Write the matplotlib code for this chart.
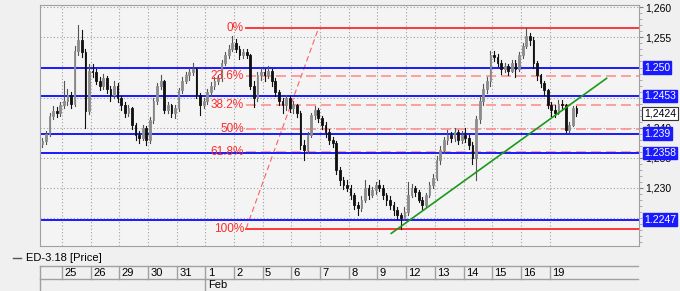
import matplotlib
matplotlib.use("Agg")
import matplotlib.pyplot as plt
from matplotlib.lines import Line2D
from matplotlib.ticker import MultipleLocator, FuncFormatter

plt.rcParams["font.family"] = ["Liberation Sans", "DejaVu Sans"]

# trading days shown on the date bar (day index 0 = 25 Jan)
day_labels = ["25", "26", "29", "30", "31", "1", "2", "5", "6", "7", "8", "9",
              "12", "13", "14", "15", "16", "19"]
bars_per_day = [6] + [8] * 18   # first day (24 Jan) is cut by the left edge

first_open = 1.2372
closes = [
    1.2378, 1.2390, 1.2420, 1.2428, 1.2425, 1.2437,
    1.2445, 1.2454, 1.2440, 1.2528, 1.2545, 1.2525, 1.2428, 1.2495,
    1.2492, 1.2478, 1.2470, 1.2482, 1.2465, 1.2454, 1.2470, 1.2449,
    1.2437, 1.2425, 1.2432, 1.2404, 1.2387, 1.2383, 1.2399, 1.2379,
    1.2412, 1.2445, 1.2470, 1.2478, 1.2429, 1.2437, 1.2425, 1.2432,
    1.2462, 1.2478, 1.2487, 1.2492, 1.2498, 1.2454, 1.2437, 1.2445,
    1.2459, 1.2470, 1.2478, 1.2482, 1.2508, 1.2520, 1.2531, 1.2541,
    1.2531, 1.2520, 1.2525, 1.2520, 1.2470, 1.2449, 1.2487, 1.2492,
    1.2487, 1.2495, 1.2478, 1.2459, 1.2445, 1.2437, 1.2449, 1.2432,
    1.2437, 1.2425, 1.2371, 1.2363, 1.2387, 1.2421, 1.2429, 1.2416,
    1.2404, 1.2392, 1.2379, 1.2375, 1.2329, 1.2313, 1.2305, 1.2300,
    1.2288, 1.2271, 1.2267, 1.2280, 1.2300, 1.2288, 1.2296, 1.2305,
    1.2300, 1.2288, 1.2280, 1.2271, 1.2263, 1.2255, 1.2250, 1.2260,
    1.2288, 1.2300, 1.2293, 1.2280, 1.2271, 1.2288, 1.2305, 1.2316,
    1.2346, 1.2363, 1.2379, 1.2387, 1.2383, 1.2392, 1.2379, 1.2387,
    1.2383, 1.2371, 1.2350, 1.2415, 1.2445, 1.2465, 1.2478, 1.2520,
    1.2517, 1.2508, 1.2498, 1.2503, 1.2495, 1.2508, 1.2498, 1.2520,
    1.2536, 1.2553, 1.2545, 1.2507, 1.2487, 1.2475, 1.2462, 1.2437,
    1.2429, 1.2425, 1.2440, 1.2437, 1.2396, 1.2404, 1.2432, 1.2424,
]
highs = [
    1.2382, 1.2395, 1.2425, 1.2436, 1.2434, 1.2442,
    1.2478, 1.2465, 1.2460, 1.2535, 1.2570, 1.2562, 1.2530, 1.2505,
    1.2505, 1.2497, 1.2485, 1.2490, 1.2486, 1.2470, 1.2478, 1.2475,
    1.2453, 1.2442, 1.2438, 1.2434, 1.2408, 1.2395, 1.2404, 1.2402,
    1.2418, 1.2450, 1.2475, 1.2488, 1.2480, 1.2442, 1.2440, 1.2438,
    1.2466, 1.2484, 1.2492, 1.2500, 1.2508, 1.2500, 1.2458, 1.2450,
    1.2465, 1.2476, 1.2485, 1.2488, 1.2512, 1.2526, 1.2538, 1.2553,
    1.2548, 1.2536, 1.2530, 1.2530, 1.2522, 1.2478, 1.2492, 1.2500,
    1.2498, 1.2502, 1.2498, 1.2482, 1.2462, 1.2450, 1.2454, 1.2452,
    1.2445, 1.2440, 1.2428, 1.2380, 1.2392, 1.2425, 1.2436, 1.2432,
    1.2420, 1.2410, 1.2398, 1.2385, 1.2378, 1.2335, 1.2318, 1.2312,
    1.2304, 1.2292, 1.2276, 1.2286, 1.2313, 1.2304, 1.2302, 1.2310,
    1.2312, 1.2304, 1.2292, 1.2286, 1.2276, 1.2268, 1.2258, 1.2268,
    1.2310, 1.2306, 1.2303, 1.2296, 1.2284, 1.2292, 1.2310, 1.2322,
    1.2352, 1.2370, 1.2385, 1.2396, 1.2393, 1.2400, 1.2396, 1.2394,
    1.2400, 1.2388, 1.2376, 1.2420, 1.2452, 1.2472, 1.2485, 1.2528,
    1.2528, 1.2522, 1.2512, 1.2508, 1.2506, 1.2512, 1.2512, 1.2525,
    1.2540, 1.2566, 1.2558, 1.2550, 1.2510, 1.2490, 1.2478, 1.2465,
    1.2442, 1.2438, 1.2446, 1.2446, 1.2440, 1.2410, 1.2436, 1.2436,
]
lows = [
    1.2368, 1.2373, 1.2386, 1.2414, 1.2418, 1.2420,
    1.2432, 1.2438, 1.2432, 1.2436, 1.2520, 1.2518, 1.2400, 1.2422,
    1.2485, 1.2472, 1.2462, 1.2465, 1.2458, 1.2445, 1.2450, 1.2443,
    1.2430, 1.2418, 1.2420, 1.2398, 1.2380, 1.2375, 1.2380, 1.2371,
    1.2375, 1.2408, 1.2440, 1.2465, 1.2424, 1.2425, 1.2418, 1.2416,
    1.2428, 1.2458, 1.2474, 1.2480, 1.2488, 1.2450, 1.2421, 1.2432,
    1.2440, 1.2452, 1.2465, 1.2472, 1.2478, 1.2504, 1.2515, 1.2528,
    1.2525, 1.2514, 1.2516, 1.2515, 1.2465, 1.2434, 1.2445, 1.2480,
    1.2478, 1.2482, 1.2470, 1.2452, 1.2438, 1.2425, 1.2430, 1.2426,
    1.2425, 1.2418, 1.2365, 1.2346, 1.2358, 1.2385, 1.2415, 1.2410,
    1.2398, 1.2385, 1.2372, 1.2368, 1.2322, 1.2305, 1.2298, 1.2294,
    1.2282, 1.2264, 1.2255, 1.2262, 1.2276, 1.2282, 1.2285, 1.2290,
    1.2294, 1.2282, 1.2272, 1.2264, 1.2255, 1.2248, 1.2232, 1.2246,
    1.2255, 1.2284, 1.2286, 1.2276, 1.2265, 1.2268, 1.2284, 1.2300,
    1.2312, 1.2340, 1.2358, 1.2372, 1.2376, 1.2378, 1.2372, 1.2374,
    1.2376, 1.2364, 1.2340, 1.2313, 1.2408, 1.2438, 1.2458, 1.2470,
    1.2510, 1.2502, 1.2490, 1.2492, 1.2488, 1.2492, 1.2484, 1.2495,
    1.2515, 1.2532, 1.2538, 1.2500, 1.2480, 1.2468, 1.2455, 1.2432,
    1.2420, 1.2418, 1.2422, 1.2430, 1.2393, 1.2393, 1.2402, 1.2420,
]

# support / resistance lines and their labels
level_values = [1.2500, 1.2453, 1.2390, 1.2358, 1.2247]
level_labels = ["1.250", "1.2453", "1.239", "1.2358", "1.2247"]
last_price = 1.2424
y_ticks = [1.230, 1.235, 1.240, 1.255, 1.260]   # labels not hidden by boxes

# fibonacci retracement
fib_top = 1.2565
fib_bottom = 1.2232
fib_ratios = [0.0, 0.236, 0.382, 0.5, 0.618, 1.0]
fib_labels = ["0%", "23.6%", "38.2%", "50%", "61.8%", "100%"]
fib_start_day = 6.42
fib_diag_end_day = 8.94

# green trendline (day, price)
trend_x = [11.48, 18.99]
trend_y = [1.2224, 1.2482]

W, H = 680, 291
fig = plt.figure(figsize=(W / 100, H / 100), dpi=100, facecolor="#f0f0f0")
ax = fig.add_axes([40 / W, 1 - 246 / H, 599 / W, 241 / H])
ax.set_facecolor("#f4f4f4")

x_left, x_right = -0.77, 20.12
ax.set_xlim(x_left, x_right)
ax.set_ylim(1.2203, 1.2604)

# bar positions
xs = []
for d, n in enumerate(bars_per_day):
    day = d - 1
    off = 8 - n
    for i in range(n):
        xs.append(day + (i + off + 0.5) / 8)

opens = [first_open] + closes[:-1]
bw = 0.06
for x, o, h, l, c in zip(xs, opens, highs, lows, closes):
    up = c >= o
    col = "#8c8c8c" if up else "#111111"
    ax.plot([x, x], [l, h], color="#555555" if up else "#111111", lw=0.8, zorder=3)
    lo, hi = min(o, c), max(o, c)
    if hi - lo < 0.00008:
        hi = lo + 0.00008
    ax.add_patch(plt.Rectangle((x - bw / 2, lo), bw, hi - lo, facecolor=col,
                               edgecolor=col, lw=0.6, zorder=4))

# grid
for d in range(len(day_labels)):
    ax.axvline(d, color="#a0a0a0", lw=0.8, ls=(0, (1, 2)), zorder=1)
for v in [1.225, 1.230, 1.235, 1.240, 1.245, 1.250, 1.255, 1.260]:
    ax.axhline(v, color="#a0a0a0", lw=0.8, ls=(0, (1, 2)), zorder=1)

# fibonacci
rng = fib_top - fib_bottom
for r, lab in zip(fib_ratios, fib_labels):
    v = fib_top - r * rng
    if r in (0.0, 1.0):
        ax.plot([fib_start_day, x_right], [v, v], color="#ff2a2a", lw=1.3, zorder=2)
    else:
        ax.plot([fib_start_day, x_right], [v, v], color="#ff9090", lw=1.2,
                ls=(0, (6, 3)), zorder=2)
    ax.text(fib_start_day - 0.08, v, lab, color="#ff2a2a", fontsize=8.5,
            ha="right", va="center", zorder=6)
ax.plot([fib_start_day, fib_diag_end_day], [fib_bottom, fib_top], color="#ff6060",
        lw=0.8, ls=(0, (5, 3)), zorder=2)

# blue levels
for v in level_values:
    ax.axhline(v, color="#1a1aff", lw=1.4, zorder=2.5)

# trendline
ax.plot(trend_x, trend_y, color="#1a9a1a", lw=1.2, zorder=5)

# axes styling
ax.set_xticks([])
ax.yaxis.tick_right()
ax.set_yticks(y_ticks)
ax.yaxis.set_minor_locator(MultipleLocator(0.001))
ax.yaxis.set_major_formatter(FuncFormatter(lambda v, p: f"{v:.3f}".replace(".", ",")))
ax.tick_params(axis="y", which="major", length=3, color="#808080", labelsize=7.5, pad=1.5)
ax.tick_params(axis="y", which="minor", length=2, color="#a0a0a0")
for s in ax.spines.values():
    s.set_color("#a0a0a0")
    s.set_linewidth(0.8)

# price boxes on the right axis
box_x = 1.0 + 5 / 599
for v, lab in zip(level_values, level_labels):
    ax.text(box_x, v, lab, transform=ax.get_yaxis_transform(), color="white",
            fontsize=7.5, ha="left", va="center", zorder=10, clip_on=False,
            bbox=dict(boxstyle="square,pad=0.12", facecolor="#1a1aff", edgecolor="#1a1aff"))
ax.text(box_x, last_price, f"{last_price:.4f}".replace(".", ","),
        transform=ax.get_yaxis_transform(), color="black", fontsize=7.5,
        ha="left", va="center", zorder=10, clip_on=False,
        bbox=dict(boxstyle="square,pad=0.15", facecolor="white", edgecolor="#333333", lw=0.8))

# legend line under the chart
fig.add_artist(Line2D([13 / W, 21 / W], [1 - 258 / H, 1 - 258 / H], color="#555555", lw=1))
fig.text(26 / W, 1 - 258 / H, "ED-3.18 [Price]", fontsize=8, va="center", ha="left")

# date bar
tx = fig.add_axes([40 / W, 0, 599 / W, 25 / H])
tx.set_facecolor("#f0f0f0")
tx.set_xlim(x_left, x_right)
tx.set_ylim(0, 25)
tx.axis("off")
tx.plot([x_left, x_right - 0.05], [25, 25], color="#a0a0a0", lw=1, clip_on=False)
tx.plot([x_left, x_right - 0.05], [12.5, 12.5], color="#a0a0a0", lw=1, clip_on=False)
tx.plot([x_left, x_left], [0, 25], color="#a0a0a0", lw=1, clip_on=False)
for d, lab in enumerate(day_labels):
    tx.plot([d, d], [12.5, 25], color="#a0a0a0", lw=1)
    tx.text(d + 0.08, 18.5, lab, fontsize=8, va="center", ha="left")
tx.plot([5, 5], [0, 12.5], color="#a0a0a0", lw=1)
tx.text(5.08, 6, "Feb", fontsize=8, va="center", ha="left")

fig.savefig("out.png", dpi=100, facecolor=fig.get_facecolor())
